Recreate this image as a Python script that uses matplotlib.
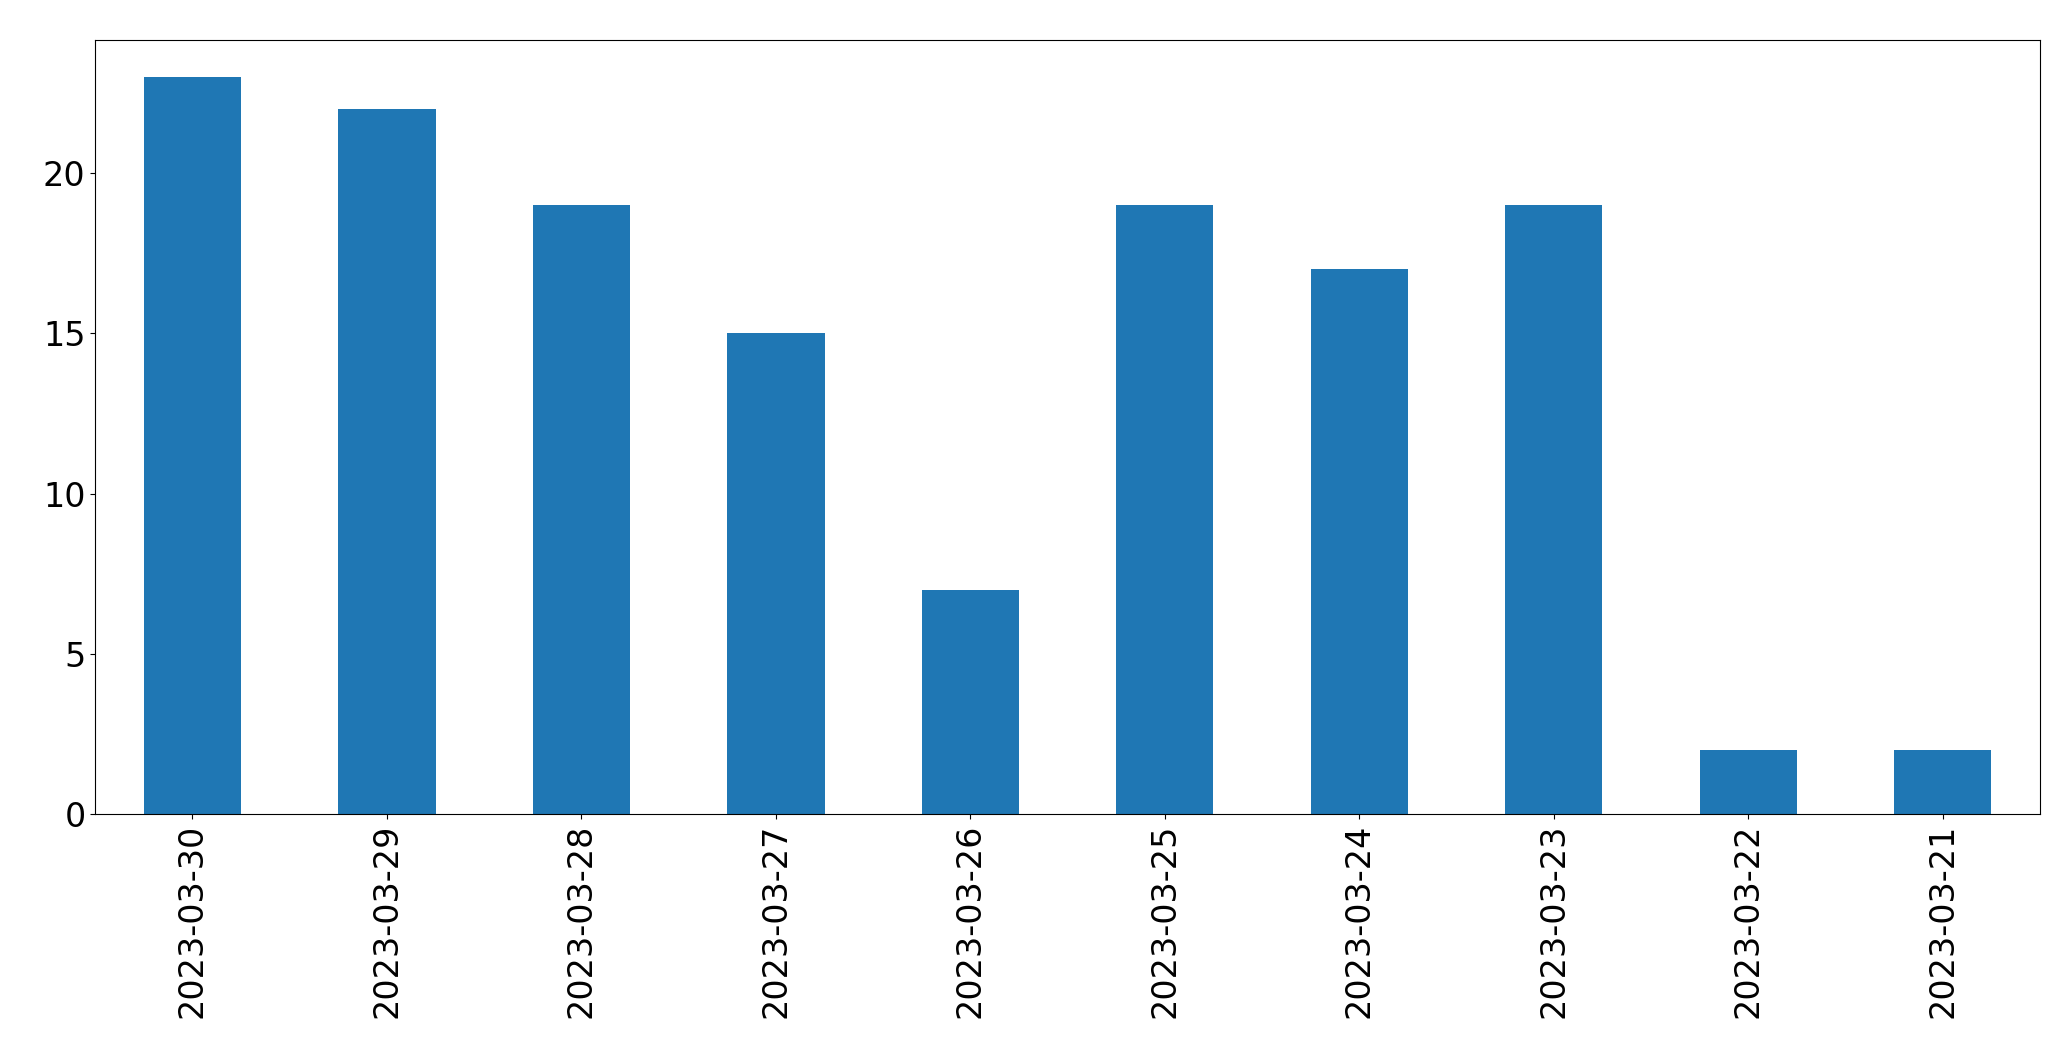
import matplotlib
matplotlib.use("Agg")
import matplotlib.pyplot as plt

dates = ["2023-03-30","2023-03-29","2023-03-28","2023-03-27","2023-03-26",
         "2023-03-25","2023-03-24","2023-03-23","2023-03-22","2023-03-21"]
counts = [23, 22, 19, 15, 7, 19, 17, 19, 2, 2]

fig = plt.figure(figsize=(20.71, 10.61), dpi=100)
ax = fig.add_axes([0.046, 0.233, 0.939, 0.729])
x = range(len(dates))
ax.bar(x, counts, width=0.5, color="#1f77b4")
ax.set_xticks(list(x))
ax.set_xticklabels(dates, rotation=90)
ax.set_xlim(-0.5, len(dates) - 0.5)
ax.set_ylim(0, 24.15)
ax.set_yticks([0, 5, 10, 15, 20])
ax.tick_params(labelsize=24)
fig.savefig("out.png", dpi=100)
